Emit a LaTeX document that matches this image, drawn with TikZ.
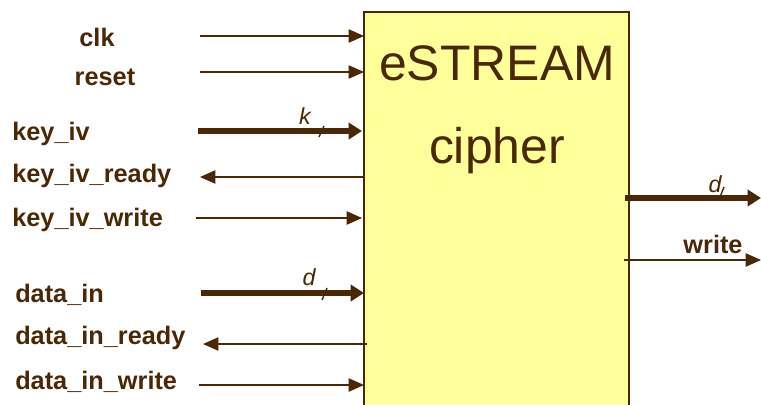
\documentclass[tikz,border=0pt]{standalone}
\usepackage{fontspec}
\setmainfont{Liberation Sans}
\usetikzlibrary{arrows.meta}
\definecolor{wirebrown}{HTML}{4A2806}
\definecolor{coreyellow}{HTML}{FFFF99}

\begin{document}
\begin{tikzpicture}[x=0.025cm, y=-0.025cm,
  core/.style={draw=wirebrown, fill=coreyellow, line width=1.3pt,
    minimum width=6.625cm, minimum height=10.3cm, inner sep=0pt, outer sep=0pt},
  title/.style={font=\fontsize{35.5}{40}\selectfont, text=wirebrown, inner sep=0pt},
  pin/.style={font=\fontsize{18}{21}\selectfont\bfseries, text=wirebrown, inner sep=0pt},
  width/.style={font=\fontsize{16.5}{19}\selectfont\itshape, text=wirebrown, inner sep=0pt},
  wire/.style={draw=wirebrown, line width=1pt, -{Triangle[length=11pt, width=9.5pt]}},
  bus/.style={draw=wirebrown, line width=3.8pt, -{Triangle[length=9.5pt, width=11.5pt]}},
  slash/.style={draw=wirebrown, line width=1pt}]

  % page in pixel units; the box runs off the lower edge
  \useasboundingbox (0,0) rectangle (761,404);
  \clip (0,0) rectangle (761,404);

  % --- cipher core ---
  \node[core, anchor=north west] (core) at (364,12) {};
  \node[title, anchor=base] (estream) at (497,80) {eSTREAM};
  \node[title, anchor=base] (cipher) at (497,163) {cipher};

  % --- clock and reset ---
  \node[pin, anchor=base] (clk) at (97,46) {clk};
  \coordinate (clkT) at (200,36);
  \draw[wire] (clkT) -- (clkT -| core.west);

  \node[pin, anchor=base] (reset) at (105,85) {reset};
  \coordinate (resetT) at (200,72);
  \draw[wire] (resetT) -- (resetT -| core.west);

  % --- key / iv port ---
  \node[pin, anchor=base west] (keyiv) at (12,140) {key\_iv};
  \coordinate (keyivT) at (198,131);
  \draw[bus] (keyivT) -- ([xshift=-2*0.025cm]keyivT -| core.west);
  \draw[slash] (319,137) -- (324,126);
  \node[width, anchor=base] (k) at (305,124) {k};

  \node[pin, anchor=base west] (keyivready) at (12,182) {key\_iv\_ready};
  \coordinate (keyivreadyT) at (200,177);
  \draw[wire] (keyivreadyT -| core.west) -- (keyivreadyT);

  \node[pin, anchor=base west] (keyivwrite) at (12,226) {key\_iv\_write};
  \coordinate (keyivwriteT) at (196,218);
  \draw[wire] (keyivwriteT) -- ([xshift=-2*0.025cm]keyivwriteT -| core.west);

  % --- data input port ---
  \node[pin, anchor=base west] (datain) at (15,302) {data\_in};
  \coordinate (datainT) at (201,293);
  \draw[bus] (datainT) -- (datainT -| core.west);
  \draw[slash] (322,300) -- (327,288);
  \node[width, anchor=base] (din) at (309,285) {d};

  \node[pin, anchor=base west] (datainready) at (15,344) {data\_in\_ready};
  \coordinate (datainreadyT) at (203,344);
  \draw[wire] ([xshift=3*0.025cm]datainreadyT -| core.west) -- (datainreadyT);

  \node[pin, anchor=base west] (datainwrite) at (15,389) {data\_in\_write};
  \coordinate (datainwriteT) at (199,385);
  \draw[wire] (datainwriteT) -- (datainwriteT -| core.west);

  % --- output port ---
  \coordinate (doutT) at (761,198);
  \draw[bus] ([xshift=-4*0.025cm]doutT -| core.east) -- (doutT);
  \draw[slash] (720,197) -- (724,187);
  \node[width, anchor=base] (dout) at (715,192) {d};

  \node[pin, anchor=base] (write) at (713,253) {write};
  \coordinate (writeT) at (761,260);
  \draw[wire] ([xshift=-5*0.025cm]writeT -| core.east) -- (writeT);

\end{tikzpicture}
\end{document}
